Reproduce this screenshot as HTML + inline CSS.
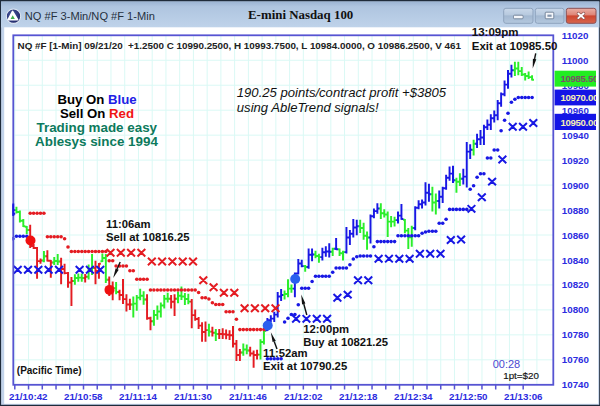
<!DOCTYPE html>
<html><head><meta charset="utf-8"><title>E-mini Nasdaq 100</title>
<style>html,body{margin:0;padding:0;background:#fff;overflow:hidden;font-family:"Liberation Sans",sans-serif}</style></head>
<body>
<svg width="600" height="406" viewBox="0 0 600 406" style="display:block">
<defs>
<linearGradient id="tb" x1="0" y1="0" x2="0" y2="1"><stop offset="0" stop-color="#9cb4d3"/><stop offset="0.2" stop-color="#afc5e0"/><stop offset="1" stop-color="#bfd3ea"/></linearGradient>
<linearGradient id="btn" x1="0" y1="0" x2="0" y2="1"><stop offset="0" stop-color="#c9d8ea"/><stop offset="0.45" stop-color="#b7c9de"/><stop offset="0.5" stop-color="#a3b8d1"/><stop offset="1" stop-color="#b4c8de"/></linearGradient>
<linearGradient id="cls" x1="0" y1="0" x2="0" y2="1"><stop offset="0" stop-color="#eab0a6"/><stop offset="0.45" stop-color="#de8476"/><stop offset="0.5" stop-color="#cd4630"/><stop offset="1" stop-color="#d8654c"/></linearGradient>
<radialGradient id="ico" cx="0.4" cy="0.4" r="0.7"><stop offset="0" stop-color="#4a5aa0"/><stop offset="1" stop-color="#1a2060"/></radialGradient>
<clipPath id="cc"><rect x="12.4" y="36" width="540.6" height="348.5"/></clipPath>
<clipPath id="pb"><rect x="554.6" y="60" width="41.4" height="80"/></clipPath>
</defs>
<rect x="0" y="0" width="600" height="406" fill="#1f2b3a"/>
<rect x="1.1" y="1.5" width="598.1" height="403.3" fill="#c2d3ea"/>
<rect x="1" y="1.5" width="598.3" height="26" fill="url(#tb)"/>
<rect x="4.2" y="27.3" width="594" height="376.5" fill="#ffffff"/>
<circle cx="13.5" cy="16.2" r="7.2" fill="url(#ico)" stroke="#dfe8f2" stroke-width="1.1"/>
<path d="M12.6 11.4 L17.6 19.6 L8.2 19.6 Z" fill="#ffffff" stroke="#ffffff" stroke-width="1.6" stroke-linejoin="round"/>
<path d="M12.7 15.2 L14.8 18.9 L10.6 18.9 Z" fill="#3fae4c"/>
<text x="24.8" y="20.2" font-family="Liberation Sans, sans-serif" font-size="11.1" fill="#26303e">NQ #F 3-Min/NQ #F 1-Min</text>
<text x="248" y="19" font-family="Liberation Serif, serif" font-weight="bold" font-size="12.9" fill="#111">E-mini Nasdaq 100</text>
<rect x="503.7" y="8.3" width="29.3" height="15" rx="2.2" fill="url(#btn)" stroke="#8ea3bd" stroke-width="1"/>
<rect x="535.3" y="8.3" width="28.7" height="15" rx="2.2" fill="url(#btn)" stroke="#8ea3bd" stroke-width="1"/>
<rect x="566.3" y="8.3" width="29.7" height="15" rx="2.2" fill="url(#cls)" stroke="#8a5054" stroke-width="1"/>
<rect x="513.5" y="15.2" width="9.6" height="3.6" rx="1" fill="#f4f6fa" stroke="#6e7f95" stroke-width="0.9"/>
<rect x="545.2" y="12.2" width="8.6" height="6.6" rx="0.8" fill="#f4f6fa" stroke="#6e7f95" stroke-width="0.9"/>
<rect x="547.4" y="14.6" width="4.2" height="2.2" fill="#8596ad"/>
<path d="M578.3 13.5 L583.7 18.1 M583.7 13.5 L578.3 18.1" stroke="#8a5552" stroke-width="3.1" stroke-linecap="round"/>
<path d="M578.3 13.5 L583.7 18.1 M583.7 13.5 L578.3 18.1" stroke="#ffffff" stroke-width="1.8" stroke-linecap="round"/>
<path d="M14 60.26H553 M14 85.23H553 M14 110.19H553 M14 135.16H553 M14 160.12H553 M14 185.08H553 M14 210.05H553 M14 235.01H553 M14 259.98H553 M14 284.94H553 M14 309.90H553 M14 334.87H553 M14 359.83H553 M14.80 36V384.5 M28.54 36V384.5 M42.28 36V384.5 M56.02 36V384.5 M69.76 36V384.5 M83.50 36V384.5 M97.24 36V384.5 M110.98 36V384.5 M124.72 36V384.5 M138.46 36V384.5 M152.20 36V384.5 M165.94 36V384.5 M179.68 36V384.5 M193.42 36V384.5 M207.16 36V384.5 M220.90 36V384.5 M234.64 36V384.5 M248.38 36V384.5 M262.12 36V384.5 M275.86 36V384.5 M289.60 36V384.5 M303.34 36V384.5 M317.08 36V384.5 M330.82 36V384.5 M344.56 36V384.5 M358.30 36V384.5 M372.04 36V384.5 M385.78 36V384.5 M399.52 36V384.5 M413.26 36V384.5 M427.00 36V384.5 M440.74 36V384.5 M454.48 36V384.5 M468.22 36V384.5 M481.96 36V384.5 M495.70 36V384.5 M509.44 36V384.5 M523.18 36V384.5 M536.92 36V384.5" stroke="#daf9f5" stroke-width="1" fill="none"/>
<!--CHART-->
<g clip-path="url(#cc)"><path d="M30.19 224.7V248.0M28.29 230.0H30.19M30.19 246.0H32.09 M33.62 244.0V249.0M31.73 246.0H33.62M33.62 248.0H35.52 M37.06 247.0V278.7M35.16 248.0H37.06M37.06 261.1H38.96 M40.50 258.5V263.7M38.60 261.1H40.50M40.50 260.4H42.40 M47.38 250.2V261.5M45.48 256.2H47.38M47.38 260.7H49.27 M50.81 260.0V277.7M48.91 260.8H50.81M50.81 262.5H52.71 M61.12 257.7V284.3M59.23 261.4H61.12M61.12 268.9H63.02 M64.56 263.7V274.2M62.66 268.9H64.56M64.56 273.1H66.46 M68.00 272.0V287.7M66.10 273.1H68.00M68.00 282.4H69.90 M71.44 277.0V306.0M69.54 282.4H71.44M71.44 280.9H73.34 M85.19 274.0V282.5M83.29 277.9H85.19M85.19 276.8H87.09 M95.50 260.7V284.3M93.60 267.9H95.50M95.50 270.9H97.40 M98.94 263.0V278.7M97.04 270.9H98.94M98.94 263.8H100.84 M109.25 276.5V296.0M107.35 279.8H109.25M109.25 288.8H111.15 M112.69 281.5V300.2M110.79 288.8H112.69M112.69 288.1H114.59 M119.56 289.7V300.2M117.66 291.9H119.56M119.56 294.9H121.46 M123.00 279.0V304.0M121.10 294.9H123.00M123.00 299.1H124.90 M126.44 294.2V311.5M124.54 299.1H126.44M126.44 304.4H128.34 M129.88 298.7V310.0M127.97 304.4H129.88M129.88 304.4H131.78 M147.06 294.2V319.7M145.16 299.4H147.06M147.06 318.2H148.96 M150.50 316.7V330.2M148.60 318.2H150.50M150.50 321.2H152.40 M171.12 295.0V308.5M169.22 298.8H171.12M171.12 301.8H173.03 M174.56 294.2V316.0M172.66 301.8H174.56M174.56 298.7H176.46 M191.75 299.0V328.2M189.85 301.6H191.75M191.75 315.1H193.65 M195.19 309.5V320.7M193.29 315.1H195.19M195.19 318.9H197.09 M198.62 317.0V329.0M196.72 318.9H198.62M198.62 325.6H200.53 M202.06 322.2V341.7M200.16 325.6H202.06M202.06 331.9H203.96 M205.50 321.5V341.7M203.60 331.9H205.50M205.50 330.1H207.40 M212.38 326.7V336.5M210.47 331.6H212.38M212.38 332.8H214.28 M219.25 329.0V339.0M217.35 334.0H219.25M219.25 334.0H221.15 M222.69 328.2V339.0M220.79 334.0H222.69M222.69 334.3H224.59 M226.12 329.6V339.3M224.22 334.3H226.12M226.12 334.8H228.03 M229.56 330.3V340.1M227.66 334.8H229.56M229.56 335.2H231.46 M233.00 326.0V347.6M231.10 335.2H233.00M233.00 343.8H234.90 M236.44 340.0V361.0M234.54 343.8H236.44M236.44 355.0H238.34 M239.88 349.0V361.0M237.97 355.0H239.88M239.88 352.4H241.78 M250.19 346.7V356.5M248.29 350.4H250.19M250.19 353.5H252.09 M253.62 350.5V367.7M251.72 353.5H253.62M253.62 355.0H255.53 M257.06 349.7V359.5M255.16 355.0H257.06M257.06 354.6H258.96" stroke="#e41c22" stroke-width="1.95" fill="none"/>
<path d="M16.44 206.7V213.5M14.54 210.1H16.44M16.44 212.0H18.34 M19.88 210.5V222.5M17.98 212.0H19.88M19.88 220.8H21.77 M23.31 219.0V227.0M21.41 220.8H23.31M23.31 226.2H25.21 M26.75 226.0V234.0M24.85 226.8H26.75M26.75 230.0H28.65 M43.94 251.0V262.2M42.04 260.4H43.94M43.94 256.2H45.84 M54.25 257.0V265.0M52.35 262.5H54.25M54.25 261.0H56.15 M57.69 254.0V265.0M55.79 261.0H57.69M57.69 261.4H59.59 M74.88 274.2V284.7M72.97 280.9H74.88M74.88 277.9H76.78 M78.31 273.5V281.7M76.41 277.9H78.31M78.31 277.6H80.21 M81.75 273.5V281.7M79.85 277.6H81.75M81.75 277.9H83.65 M88.62 264.5V279.5M86.72 276.8H88.62M88.62 269.8H90.53 M92.06 254.0V275.0M90.16 269.8H92.06M92.06 267.9H93.96 M102.38 253.5V262.0M100.47 261.2H102.38M102.38 258.0H104.28 M105.81 254.0V283.0M103.91 258.0H105.81M105.81 279.8H107.71 M116.12 282.0V294.2M114.22 288.1H116.12M116.12 291.9H118.03 M133.31 296.5V317.5M131.41 304.4H133.31M133.31 303.6H135.21 M136.75 295.0V310.7M134.85 303.6H136.75M136.75 297.6H138.65 M140.19 288.7V300.2M138.29 297.6H140.19M140.19 295.7H142.09 M143.62 291.2V304.7M141.72 295.7H143.62M143.62 299.4H145.53 M153.94 310.0V325.7M152.04 321.2H153.94M153.94 314.9H155.84 M157.38 305.5V319.7M155.47 314.9H157.38M157.38 311.5H159.28 M160.81 302.5V317.5M158.91 311.5H160.81M160.81 305.5H162.71 M164.25 295.0V308.5M162.35 305.5H164.25M164.25 298.8H166.15 M167.69 292.7V302.5M165.79 298.8H167.69M167.69 298.8H169.59 M178.00 291.5V303.2M176.10 298.7H178.00M178.00 295.8H179.90 M181.44 286.5V300.0M179.54 295.8H181.44M181.44 296.5H183.34 M184.88 293.0V305.0M182.97 296.5H184.88M184.88 298.9H186.78 M188.31 293.7V304.2M186.41 298.9H188.31M188.31 301.6H190.21 M208.94 323.7V336.5M207.04 330.1H208.94M208.94 331.6H210.84 M215.81 329.0V341.0M213.91 332.8H215.81M215.81 334.0H217.71 M243.31 343.5V355.7M241.41 352.4H243.31M243.31 349.4H245.21 M246.75 344.5V354.2M244.85 349.4H246.75M246.75 350.4H248.65 M260.50 339.2V359.5M258.60 354.6H260.50M260.50 341.9H262.40 M263.94 330.2V344.5M262.04 341.9H263.94M263.94 331.0H265.84 M284.56 290.5V299.5M282.66 295.0H284.56M284.56 293.9H286.46 M288.00 279.2V297.2M286.10 293.9H288.00M288.00 288.6H289.90 M291.44 284.5V292.7M289.54 288.6H291.44M291.44 288.6H293.34 M305.19 265.0V271.7M303.29 266.1H305.19M305.19 266.9H307.09 M315.50 250.7V258.2M313.60 254.4H315.50M315.50 255.9H317.40 M318.94 253.7V262.7M317.04 255.9H318.94M318.94 257.1H320.84 M332.69 247.7V256.0M330.79 251.8H332.69M332.69 248.8H334.59 M339.56 248.5V256.0M337.66 249.3H339.56M339.56 253.3H341.46 M343.00 250.7V260.5M341.10 253.3H343.00M343.00 252.1H344.90 M360.19 219.7V233.0M358.29 226.3H360.19M360.19 227.9H362.09 M363.62 222.8V239.8M361.73 227.9H363.62M363.62 235.7H365.52 M367.06 231.5V249.8M365.16 235.7H367.06M367.06 237.5H368.96 M380.81 203.2V219.0M378.91 208.4H380.81M380.81 213.3H382.71 M384.25 209.2V217.5M382.35 213.3H384.25M384.25 214.5H386.15 M387.69 211.5V237.0M385.79 214.5H387.69M387.69 221.6H389.59 M391.12 216.0V227.2M389.23 221.6H391.12M391.12 221.6H393.02 M394.56 216.7V226.5M392.66 221.6H394.56M394.56 220.1H396.46 M404.88 219.0V233.2M402.98 219.8H404.88M404.88 230.6H406.77 M408.31 228.0V249.0M406.41 230.6H408.31M408.31 237.3H410.21 M411.75 225.7V246.7M409.85 237.3H411.75M411.75 227.9H413.65 M432.38 186.7V211.5M430.48 194.2H432.38M432.38 202.5H434.27 M435.81 193.5V214.5M433.91 202.5H435.81M435.81 201.0H437.71 M456.44 177.7V192.7M454.54 180.3H456.44M456.44 181.8H458.34 M459.88 173.2V186.0M457.98 181.8H459.88M459.88 178.8H461.77 M473.62 139.7V155.5M471.73 149.8H473.62M473.62 143.8H475.52 M514.88 61.7V76.0M512.98 70.3H514.88M514.88 68.5H516.77 M518.31 61.7V75.2M516.41 68.5H518.31M518.31 71.1H520.21 M521.75 67.0V76.0M519.85 71.1H521.75M521.75 74.5H523.65 M525.19 73.0V80.5M523.29 74.5H525.19M525.19 76.0H527.09 M528.62 71.5V79.0M526.73 76.0H528.62M528.62 77.1H530.52 M532.06 75.2V80.5M530.16 77.1H532.06M532.06 79.7H533.96" stroke="#2aee2a" stroke-width="1.95" fill="none"/>
<path d="M13.00 204.5V215.5M11.10 210.0H13.00M13.00 210.1H14.90 M267.38 318.0V331.0M265.48 330.2H267.38M267.38 320.2H269.27 M270.81 315.2V322.4M268.91 320.2H270.81M270.81 318.6H272.71 M274.25 311.8V322.0M272.35 318.6H274.25M274.25 314.6H276.15 M277.69 292.0V317.5M275.79 314.6H277.69M277.69 296.5H279.59 M281.12 289.0V301.0M279.23 296.5H281.12M281.12 295.0H283.02 M294.88 272.5V297.2M292.98 288.6H294.88M294.88 273.5H296.77 M298.31 259.0V274.5M296.41 273.5H298.31M298.31 263.4H300.21 M301.75 259.7V267.2M299.85 263.4H301.75M301.75 266.1H303.65 M308.62 248.5V268.7M306.73 266.9H308.62M308.62 254.8H310.52 M312.06 248.5V261.2M310.16 254.8H312.06M312.06 254.4H313.96 M322.38 247.7V260.5M320.48 257.1H322.38M322.38 252.2H324.27 M325.81 246.2V256.7M323.91 252.2H325.81M325.81 251.4H327.71 M329.25 243.2V257.5M327.35 251.4H329.25M329.25 251.8H331.15 M336.12 238.0V250.0M334.23 248.8H336.12M336.12 249.2H338.02 M346.44 227.0V253.6M344.54 252.1H346.44M346.44 237.5H348.34 M349.88 230.0V245.0M347.98 237.5H349.88M349.88 233.8H351.77 M353.31 219.0V237.5M351.41 233.8H353.31M353.31 227.5H355.21 M356.75 219.7V235.3M354.85 227.5H356.75M356.75 226.3H358.65 M370.50 214.5V243.5M368.60 237.5H370.50M370.50 216.3H372.40 M373.94 208.5V218.2M372.04 216.3H373.94M373.94 211.1H375.84 M377.38 203.2V213.7M375.48 211.1H377.38M377.38 208.4H379.27 M398.00 211.5V223.5M396.10 220.1H398.00M398.00 215.6H399.90 M401.44 204.0V219.7M399.54 215.6H401.44M401.44 218.9H403.34 M415.19 206.2V230.2M413.29 227.9H415.19M415.19 207.7H417.09 M418.62 200.2V209.2M416.73 207.7H418.62M418.62 204.3H420.52 M422.06 199.5V208.5M420.16 204.3H422.06M422.06 202.5H423.96 M425.50 182.2V205.5M423.60 202.5H425.50M425.50 192.7H427.40 M428.94 183.7V201.7M427.04 192.7H428.94M428.94 194.2H430.84 M439.25 190.5V208.5M437.35 201.0H439.25M439.25 196.8H441.15 M442.69 186.7V203.0M440.79 196.8H442.69M442.69 188.2H444.59 M446.12 174.7V189.7M444.23 188.2H446.12M446.12 177.7H448.02 M449.56 166.5V180.7M447.66 177.7H449.56M449.56 173.6H451.46 M453.00 165.7V183.0M451.10 173.6H453.00M453.00 180.3H454.90 M463.31 168.7V184.5M461.41 178.8H463.31M463.31 176.6H465.21 M466.75 142.0V187.5M464.85 176.6H466.75M466.75 151.6H468.65 M470.19 144.2V159.0M468.29 151.6H470.19M470.19 149.8H472.09 M477.06 133.7V148.0M475.16 143.8H477.06M477.06 139.3H478.96 M480.50 130.0V145.0M478.60 139.3H480.50M480.50 137.5H482.40 M483.94 124.7V145.0M482.04 137.5H483.94M483.94 127.3H485.84 M487.38 119.5V130.0M485.48 127.3H487.38M487.38 124.8H489.27 M490.81 114.2V130.0M488.91 124.8H490.81M490.81 118.3H492.71 M494.25 110.5V122.5M492.35 118.3H494.25M494.25 115.3H496.15 M497.69 100.0V120.2M495.79 115.3H497.69M497.69 103.3H499.59 M501.12 92.5V106.7M499.23 103.3H501.12M501.12 94.3H503.02 M504.56 80.5V96.2M502.66 94.3H504.56M504.56 84.6H506.46 M508.00 70.0V88.7M506.10 84.6H508.00M508.00 73.8H509.90 M511.44 64.7V77.5M509.54 73.8H511.44M511.44 70.3H513.34" stroke="#1818e4" stroke-width="1.95" fill="none"/>
<path d="M106.6 249.1L114.4 256.5M114.4 249.1L106.6 256.5 M116.9 249.1L124.7 256.5M124.7 249.1L116.9 256.5 M127.2 249.1L135.0 256.5M135.0 249.1L127.2 256.5 M137.5 249.1L145.3 256.5M145.3 249.1L137.5 256.5 M147.9 257.8L155.7 265.2M155.7 257.8L147.9 265.2 M158.2 257.8L166.0 265.2M166.0 257.8L158.2 265.2 M168.5 257.8L176.3 265.2M176.3 257.8L168.5 265.2 M178.8 257.8L186.6 265.2M186.6 257.8L178.8 265.2 M189.1 257.8L196.9 265.2M196.9 257.8L189.1 265.2 M199.4 276.5L207.2 283.9M207.2 276.5L199.4 283.9 M209.7 283.5L217.5 290.9M217.5 283.5L209.7 290.9 M220.0 289.1L227.8 296.5M227.8 289.1L220.0 296.5 M230.4 289.1L238.2 296.5M238.2 289.1L230.4 296.5 M240.7 304.5L248.5 311.9M248.5 304.5L240.7 311.9 M251.0 304.5L258.8 311.9M258.8 304.5L251.0 311.9 M261.3 304.5L269.1 311.9M269.1 304.5L261.3 311.9 M271.6 304.5L279.4 311.9M279.4 304.5L271.6 311.9" stroke="#e41c22" stroke-width="2.0" fill="none"/>
<path d="M13.8 266.0L21.6 273.4M21.6 266.0L13.8 273.4 M24.1 266.0L31.9 273.4M31.9 266.0L24.1 273.4 M34.4 266.0L42.2 273.4M42.2 266.0L34.4 273.4 M44.7 266.0L52.5 273.4M52.5 266.0L44.7 273.4 M55.1 266.0L62.9 273.4M62.9 266.0L55.1 273.4 M75.7 266.0L83.5 273.4M83.5 266.0L75.7 273.4 M86.0 266.0L93.8 273.4M93.8 266.0L86.0 273.4 M96.3 266.0L104.1 273.4M104.1 266.0L96.3 273.4 M292.2 315.1L300.0 322.5M300.0 315.1L292.2 322.5 M302.6 315.1L310.3 322.5M310.3 315.1L302.6 322.5 M312.9 315.1L320.7 322.5M320.7 315.1L312.9 322.5 M323.2 315.1L331.0 322.5M331.0 315.1L323.2 322.5 M333.5 294.1L341.3 301.5M341.3 294.1L333.5 301.5 M343.8 290.9L351.6 298.3M351.6 290.9L343.8 298.3 M354.1 276.6L361.9 284.0M361.9 276.6L354.1 284.0 M364.4 276.6L372.2 284.0M372.2 276.6L364.4 284.0 M374.7 255.0L382.5 262.4M382.5 255.0L374.7 262.4 M385.1 255.0L392.8 262.4M392.8 255.0L385.1 262.4 M395.4 255.0L403.2 262.4M403.2 255.0L395.4 262.4 M405.7 255.0L413.5 262.4M413.5 255.0L405.7 262.4 M416.0 250.1L423.8 257.5M423.8 250.1L416.0 257.5 M426.3 250.1L434.1 257.5M434.1 250.1L426.3 257.5 M436.6 250.1L444.4 257.5M444.4 250.1L436.6 257.5 M446.9 236.3L454.7 243.7M454.7 236.3L446.9 243.7 M457.2 235.8L465.0 243.2M465.0 235.8L457.2 243.2 M467.6 205.1L475.3 212.5M475.3 205.1L467.6 212.5 M477.9 193.5L485.7 200.9M485.7 193.5L477.9 200.9 M488.2 177.9L496.0 185.3M496.0 177.9L488.2 185.3 M498.5 155.8L506.3 163.2M506.3 155.8L498.5 163.2 M508.8 123.1L516.6 130.5M516.6 123.1L508.8 130.5 M519.1 123.1L526.9 130.5M526.9 123.1L519.1 130.5 M529.4 119.3L537.2 126.7M537.2 119.3L529.4 126.7" stroke="#1818e4" stroke-width="2.0" fill="none"/>
<g fill="#e41c22"><circle cx="30.2" cy="213.2" r="1.8"/><circle cx="33.6" cy="213.2" r="1.8"/><circle cx="37.1" cy="213.2" r="1.8"/><circle cx="40.5" cy="213.2" r="1.8"/><circle cx="43.9" cy="213.2" r="1.8"/><circle cx="47.4" cy="236.7" r="1.8"/><circle cx="50.8" cy="236.7" r="1.8"/><circle cx="54.2" cy="236.7" r="1.8"/><circle cx="57.7" cy="236.7" r="1.8"/><circle cx="61.1" cy="236.7" r="1.8"/><circle cx="64.6" cy="238.7" r="1.8"/><circle cx="68.0" cy="247.0" r="1.8"/><circle cx="71.4" cy="251.5" r="1.8"/><circle cx="74.9" cy="251.5" r="1.8"/><circle cx="78.3" cy="251.5" r="1.8"/><circle cx="81.8" cy="251.5" r="1.8"/><circle cx="85.2" cy="251.5" r="1.8"/><circle cx="88.6" cy="251.5" r="1.8"/><circle cx="92.1" cy="251.5" r="1.8"/><circle cx="95.5" cy="251.5" r="1.8"/><circle cx="98.9" cy="251.5" r="1.8"/><circle cx="102.4" cy="251.5" r="1.8"/><circle cx="105.8" cy="251.5" r="1.8"/><circle cx="109.2" cy="260.7" r="1.8"/><circle cx="112.7" cy="260.7" r="1.8"/><circle cx="116.1" cy="266.0" r="1.8"/><circle cx="119.6" cy="266.0" r="1.8"/><circle cx="123.0" cy="266.0" r="1.8"/><circle cx="126.4" cy="266.0" r="1.8"/><circle cx="129.9" cy="270.8" r="1.8"/><circle cx="133.3" cy="270.8" r="1.8"/><circle cx="136.8" cy="279.2" r="1.8"/><circle cx="140.2" cy="279.2" r="1.8"/><circle cx="143.6" cy="279.2" r="1.8"/><circle cx="147.1" cy="279.2" r="1.8"/><circle cx="150.5" cy="290.0" r="1.8"/><circle cx="153.9" cy="290.0" r="1.8"/><circle cx="157.4" cy="290.0" r="1.8"/><circle cx="160.8" cy="290.0" r="1.8"/><circle cx="164.2" cy="290.0" r="1.8"/><circle cx="167.7" cy="290.0" r="1.8"/><circle cx="171.1" cy="290.0" r="1.8"/><circle cx="174.6" cy="290.0" r="1.8"/><circle cx="178.0" cy="290.0" r="1.8"/><circle cx="181.4" cy="290.0" r="1.8"/><circle cx="184.9" cy="290.0" r="1.8"/><circle cx="188.3" cy="290.0" r="1.8"/><circle cx="191.8" cy="290.0" r="1.8"/><circle cx="195.2" cy="290.0" r="1.8"/><circle cx="198.6" cy="292.5" r="1.8"/><circle cx="202.1" cy="297.7" r="1.8"/><circle cx="205.5" cy="297.7" r="1.8"/><circle cx="208.9" cy="299.0" r="1.8"/><circle cx="212.4" cy="302.7" r="1.8"/><circle cx="215.8" cy="304.5" r="1.8"/><circle cx="219.2" cy="304.5" r="1.8"/><circle cx="222.7" cy="304.5" r="1.8"/><circle cx="226.1" cy="311.7" r="1.8"/><circle cx="229.6" cy="311.7" r="1.8"/><circle cx="233.0" cy="311.7" r="1.8"/><circle cx="236.4" cy="319.3" r="1.8"/><circle cx="239.9" cy="329.6" r="1.8"/><circle cx="243.3" cy="329.6" r="1.8"/><circle cx="246.8" cy="329.6" r="1.8"/><circle cx="250.2" cy="329.6" r="1.8"/><circle cx="253.6" cy="329.6" r="1.8"/><circle cx="257.1" cy="329.6" r="1.8"/><circle cx="260.5" cy="329.6" r="1.8"/><circle cx="263.9" cy="329.6" r="1.8"/></g>
<g fill="#1818e4"><circle cx="13.0" cy="238.7" r="1.8"/><circle cx="16.4" cy="236.2" r="1.8"/><circle cx="19.9" cy="236.2" r="1.8"/><circle cx="23.3" cy="236.2" r="1.8"/><circle cx="26.8" cy="236.2" r="1.8"/><circle cx="267.4" cy="358.7" r="1.8"/><circle cx="270.8" cy="358.7" r="1.8"/><circle cx="274.2" cy="358.7" r="1.8"/><circle cx="277.7" cy="358.7" r="1.8"/><circle cx="281.1" cy="358.7" r="1.8"/><circle cx="284.6" cy="322.0" r="1.8"/><circle cx="288.0" cy="318.2" r="1.8"/><circle cx="291.4" cy="314.5" r="1.8"/><circle cx="294.9" cy="314.5" r="1.8"/><circle cx="298.3" cy="304.7" r="1.8"/><circle cx="301.8" cy="288.2" r="1.8"/><circle cx="305.2" cy="288.2" r="1.8"/><circle cx="308.6" cy="288.2" r="1.8"/><circle cx="312.1" cy="281.5" r="1.8"/><circle cx="315.5" cy="276.2" r="1.8"/><circle cx="318.9" cy="276.2" r="1.8"/><circle cx="322.4" cy="276.2" r="1.8"/><circle cx="325.8" cy="276.2" r="1.8"/><circle cx="329.2" cy="276.2" r="1.8"/><circle cx="332.7" cy="272.3" r="1.8"/><circle cx="336.1" cy="268.0" r="1.8"/><circle cx="339.6" cy="268.0" r="1.8"/><circle cx="343.0" cy="268.0" r="1.8"/><circle cx="346.4" cy="268.0" r="1.8"/><circle cx="349.9" cy="264.8" r="1.8"/><circle cx="353.3" cy="259.0" r="1.8"/><circle cx="356.8" cy="256.8" r="1.8"/><circle cx="360.2" cy="256.0" r="1.8"/><circle cx="363.6" cy="256.0" r="1.8"/><circle cx="367.1" cy="256.0" r="1.8"/><circle cx="370.5" cy="256.0" r="1.8"/><circle cx="373.9" cy="246.8" r="1.8"/><circle cx="377.4" cy="241.6" r="1.8"/><circle cx="380.8" cy="241.6" r="1.8"/><circle cx="384.2" cy="241.6" r="1.8"/><circle cx="387.7" cy="241.6" r="1.8"/><circle cx="391.1" cy="241.6" r="1.8"/><circle cx="394.6" cy="241.6" r="1.8"/><circle cx="398.0" cy="235.8" r="1.8"/><circle cx="401.4" cy="235.8" r="1.8"/><circle cx="404.9" cy="235.8" r="1.8"/><circle cx="408.3" cy="235.8" r="1.8"/><circle cx="411.8" cy="235.8" r="1.8"/><circle cx="415.2" cy="235.8" r="1.8"/><circle cx="418.6" cy="235.8" r="1.8"/><circle cx="422.1" cy="233.2" r="1.8"/><circle cx="425.5" cy="232.0" r="1.8"/><circle cx="428.9" cy="231.3" r="1.8"/><circle cx="432.4" cy="231.3" r="1.8"/><circle cx="435.8" cy="231.3" r="1.8"/><circle cx="439.2" cy="223.2" r="1.8"/><circle cx="442.7" cy="223.2" r="1.8"/><circle cx="446.1" cy="219.3" r="1.8"/><circle cx="449.6" cy="209.4" r="1.8"/><circle cx="453.0" cy="209.4" r="1.8"/><circle cx="456.4" cy="209.4" r="1.8"/><circle cx="459.9" cy="209.4" r="1.8"/><circle cx="463.3" cy="209.4" r="1.8"/><circle cx="466.8" cy="209.4" r="1.8"/><circle cx="470.2" cy="189.3" r="1.8"/><circle cx="473.6" cy="185.7" r="1.8"/><circle cx="477.1" cy="177.3" r="1.8"/><circle cx="480.5" cy="173.7" r="1.8"/><circle cx="483.9" cy="173.7" r="1.8"/><circle cx="487.4" cy="158.0" r="1.8"/><circle cx="490.8" cy="158.0" r="1.8"/><circle cx="494.2" cy="150.0" r="1.8"/><circle cx="497.7" cy="150.0" r="1.8"/><circle cx="501.1" cy="130.7" r="1.8"/><circle cx="504.6" cy="120.2" r="1.8"/><circle cx="508.0" cy="113.2" r="1.8"/><circle cx="511.4" cy="102.2" r="1.8"/><circle cx="514.9" cy="99.2" r="1.8"/><circle cx="518.3" cy="97.5" r="1.8"/><circle cx="521.8" cy="97.5" r="1.8"/><circle cx="525.2" cy="97.5" r="1.8"/><circle cx="528.6" cy="97.5" r="1.8"/><circle cx="532.1" cy="97.5" r="1.8"/></g>
<circle cx="30.5" cy="240.5" r="5" fill="#f01010"/>
<circle cx="109.5" cy="289.9" r="5" fill="#f01010"/>
<circle cx="267.7" cy="325.5" r="5" fill="#2a60ee"/>
<circle cx="295.2" cy="279" r="5" fill="#2a60ee"/></g><path d="M120.2 262.0L117.1 269.0" stroke="#111" stroke-width="1.4" fill="none"/>
<path d="M113.2 278.0L115.6 268.3L118.7 269.7Z" fill="#111"/>
<path d="M277.0 349.0L274.2 341.5" stroke="#111" stroke-width="1.4" fill="none"/>
<path d="M270.8 332.3L275.8 340.9L272.6 342.1Z" fill="#111"/>
<path d="M306.8 315.0L303.8 304.0" stroke="#111" stroke-width="1.4" fill="none"/>
<path d="M301.2 294.5L305.4 303.5L302.1 304.4Z" fill="#111"/>
<path d="M535.7 53.3L534.6 59.0" stroke="#111" stroke-width="1.4" fill="none"/>
<path d="M532.7 68.6L532.9 58.7L536.3 59.3Z" fill="#111"/>
<rect x="13.3" y="35.3" width="540.0" height="349.5" fill="none" stroke="#5654d2" stroke-width="1.8"/>
<path d="M13.3 203.5V216M13.3 213.7H15.2" stroke="#1818e4" stroke-width="1.9" fill="none"/>
<path d="M14.80 385V389.5 M28.54 385V389.5 M42.28 385V389.5 M56.02 385V389.5 M69.76 385V389.5 M83.50 385V389.5 M97.24 385V389.5 M110.98 385V389.5 M124.72 385V389.5 M138.46 385V389.5 M152.20 385V389.5 M165.94 385V389.5 M179.68 385V389.5 M193.42 385V389.5 M207.16 385V389.5 M220.90 385V389.5 M234.64 385V389.5 M248.38 385V389.5 M262.12 385V389.5 M275.86 385V389.5 M289.60 385V389.5 M303.34 385V389.5 M317.08 385V389.5 M330.82 385V389.5 M344.56 385V389.5 M358.30 385V389.5 M372.04 385V389.5 M385.78 385V389.5 M399.52 385V389.5 M413.26 385V389.5 M427.00 385V389.5 M440.74 385V389.5 M454.48 385V389.5 M468.22 385V389.5 M481.96 385V389.5 M495.70 385V389.5 M509.44 385V389.5 M523.18 385V389.5" stroke="#5654d2" stroke-width="1.5" fill="none"/>
<text x="9.0" y="400.3" font-family="Liberation Sans, sans-serif" font-weight="bold" font-size="9.75" fill="#2c2ce0">21/10:42</text>
<text x="64.0" y="400.3" font-family="Liberation Sans, sans-serif" font-weight="bold" font-size="9.75" fill="#2c2ce0">21/10:58</text>
<text x="119.0" y="400.3" font-family="Liberation Sans, sans-serif" font-weight="bold" font-size="9.75" fill="#2c2ce0">21/11:14</text>
<text x="174.0" y="400.3" font-family="Liberation Sans, sans-serif" font-weight="bold" font-size="9.75" fill="#2c2ce0">21/11:30</text>
<text x="229.0" y="400.3" font-family="Liberation Sans, sans-serif" font-weight="bold" font-size="9.75" fill="#2c2ce0">21/11:46</text>
<text x="284.0" y="400.3" font-family="Liberation Sans, sans-serif" font-weight="bold" font-size="9.75" fill="#2c2ce0">21/12:02</text>
<text x="339.0" y="400.3" font-family="Liberation Sans, sans-serif" font-weight="bold" font-size="9.75" fill="#2c2ce0">21/12:18</text>
<text x="394.0" y="400.3" font-family="Liberation Sans, sans-serif" font-weight="bold" font-size="9.75" fill="#2c2ce0">21/12:34</text>
<text x="449.0" y="400.3" font-family="Liberation Sans, sans-serif" font-weight="bold" font-size="9.75" fill="#2c2ce0">21/12:50</text>
<text x="504.0" y="400.3" font-family="Liberation Sans, sans-serif" font-weight="bold" font-size="9.75" fill="#2c2ce0">21/13:06</text>
<text x="561.8" y="38.8" font-family="Liberation Sans, sans-serif" font-weight="bold" font-size="9.75" fill="#2c2ce0">11020</text>
<text x="561.8" y="63.8" font-family="Liberation Sans, sans-serif" font-weight="bold" font-size="9.75" fill="#2c2ce0">11000</text>
<text x="561.8" y="88.7" font-family="Liberation Sans, sans-serif" font-weight="bold" font-size="9.75" fill="#2c2ce0">10980</text>
<text x="561.8" y="113.7" font-family="Liberation Sans, sans-serif" font-weight="bold" font-size="9.75" fill="#2c2ce0">10960</text>
<text x="561.8" y="138.7" font-family="Liberation Sans, sans-serif" font-weight="bold" font-size="9.75" fill="#2c2ce0">10940</text>
<text x="561.8" y="163.6" font-family="Liberation Sans, sans-serif" font-weight="bold" font-size="9.75" fill="#2c2ce0">10920</text>
<text x="561.8" y="188.6" font-family="Liberation Sans, sans-serif" font-weight="bold" font-size="9.75" fill="#2c2ce0">10900</text>
<text x="561.8" y="213.5" font-family="Liberation Sans, sans-serif" font-weight="bold" font-size="9.75" fill="#2c2ce0">10880</text>
<text x="561.8" y="238.5" font-family="Liberation Sans, sans-serif" font-weight="bold" font-size="9.75" fill="#2c2ce0">10860</text>
<text x="561.8" y="263.5" font-family="Liberation Sans, sans-serif" font-weight="bold" font-size="9.75" fill="#2c2ce0">10840</text>
<text x="561.8" y="288.4" font-family="Liberation Sans, sans-serif" font-weight="bold" font-size="9.75" fill="#2c2ce0">10820</text>
<text x="561.8" y="313.4" font-family="Liberation Sans, sans-serif" font-weight="bold" font-size="9.75" fill="#2c2ce0">10800</text>
<text x="561.8" y="338.4" font-family="Liberation Sans, sans-serif" font-weight="bold" font-size="9.75" fill="#2c2ce0">10780</text>
<text x="561.8" y="363.3" font-family="Liberation Sans, sans-serif" font-weight="bold" font-size="9.75" fill="#2c2ce0">10760</text>
<text x="561.8" y="388.3" font-family="Liberation Sans, sans-serif" font-weight="bold" font-size="9.75" fill="#2c2ce0">10740</text>
<rect x="554.6" y="70.7" width="41.4" height="15.9" fill="#22ee22"/>
<rect x="554.6" y="89.6" width="41.4" height="15.8" fill="#1414e6"/>
<rect x="554.6" y="113.8" width="41.4" height="16.2" fill="#1414e6"/>
<g clip-path="url(#pb)" font-family="Liberation Sans, sans-serif" font-weight="bold" font-size="9.6" letter-spacing="-0.33">
<text x="560.6" y="81.8" fill="#7a5068">10985.50</text>
<text x="560.6" y="101.2" fill="#f6f0b4">10970.00</text>
<text x="560.6" y="125.7" fill="#f6f0b4">10950.00</text>
</g>
<text x="17.6" y="49.2" font-family="Liberation Sans, sans-serif" font-weight="bold" font-size="9.85" fill="#222" xml:space="preserve">NQ #F [1-Min] 09/21/20  +1.2500 C 10990.2500, H 10993.7500, L 10984.0000, O 10986.2500, V 461</text>
<g font-family="Liberation Sans, sans-serif" font-weight="bold" font-size="13.2" text-anchor="middle">
<text x="97" y="103.7" fill="#000">Buy On <tspan fill="#2020e6">Blue</tspan></text>
<text x="97" y="117.7" fill="#000">Sell On <tspan fill="#f01414">Red</tspan></text>
<text x="96.8" y="131.8" fill="#0c7a5c" font-size="13.4">Trading made easy</text>
<text x="96.5" y="145.9" fill="#0c7a5c" font-size="13.4">Ablesys since 1994</text>
</g>
<g font-family="Liberation Sans, sans-serif" font-style="italic" font-size="13.1" fill="#111">
<text x="236.8" y="97">190.25 points/contract profit +$3805</text>
<text x="236.8" y="112.3">using AbleTrend signals!</text>
</g>
<g font-family="Liberation Sans, sans-serif" font-weight="bold" font-size="11.3" fill="#111">
<text x="106" y="227.7">11:06am</text><text x="106" y="241">Sell at 10816.25</text>
<text x="303.3" y="332.5">12:00pm</text><text x="303.3" y="345.8">Buy at 10821.25</text>
<text x="263" y="356.7">11:52am</text><text x="263" y="370">Exit at 10790.25</text>
<text x="471.8" y="35.6" font-size="11.5">13:09pm</text><text x="471.8" y="49.6" font-size="11.5">Exit at 10985.50</text>
</g>
<text x="16.8" y="374" font-family="Liberation Sans, sans-serif" font-weight="bold" font-size="10" fill="#111">(Pacific Time)</text>
<text x="492.7" y="367.8" font-family="Liberation Sans, sans-serif" font-size="11" fill="#4a48d0">00:28</text>
<text x="503.2" y="378.8" font-family="Liberation Sans, sans-serif" font-size="9.8" fill="#111" stroke="#111" stroke-width="0.15">1pt=$20</text>
</svg>
</body></html>
